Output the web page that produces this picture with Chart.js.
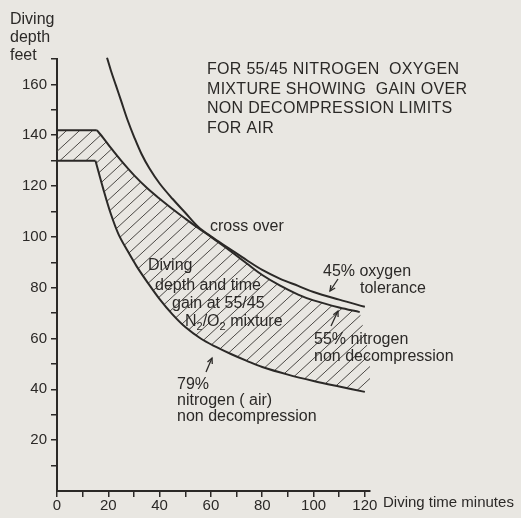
<!DOCTYPE html>
<html><head><meta charset="utf-8">
<script src="https://cdn.jsdelivr.net/npm/chart.js@4.4.0/dist/chart.umd.min.js"></script>
<style>html,body{margin:0;padding:0;background:#e9e7e2;} canvas{display:block}</style>
</head><body>
<div style="width:521px;height:518px;position:relative"><canvas id="c" width="521" height="518"></canvas></div>
<script>
const INK = '#2b2927';
const PAPER = '#e9e7e2';
const FONT = '"Liberation Sans", Arial, sans-serif';

// tick labels
const xTickLabels = [0, 20, 40, 60, 80, 100, 120];
const yTickLabels = [20, 40, 60, 80, 100, 120, 140, 160];

// 79% nitrogen (air) non decompression
const air79X = [0, 15, 18, 21, 24, 27.5, 31, 35, 40, 45, 50, 56, 62, 68, 74, 80, 90, 100, 110, 120];
const air79Y = [130, 130, 119, 109, 101, 94.5, 88.5, 82.5, 75.5, 69.5, 64.5, 60, 56.7, 53.8, 51.2, 48.8, 45.8, 43.3, 41.1, 39];

// 55% nitrogen non decompression
const nit55X = [0, 15.5, 18, 21, 25, 30, 35, 40, 45, 50, 55, 60, 66, 74, 80, 87, 94, 100, 110, 118];
const nit55Y = [142, 142, 139, 135, 130, 124.3, 119.3, 115, 111, 107.2, 103.5, 100, 95.6, 89.5, 85, 80.8, 77.3, 75, 72.2, 70.4];

// 45% oxygen tolerance
const oxy45X = [19.5, 21, 23, 25, 27.5, 30, 33, 36, 40, 45, 50, 55, 60, 67, 74, 80, 87, 94, 100, 110, 120];
const oxy45Y = [170.5, 165.5, 159.5, 153.5, 146, 139.5, 132.5, 127, 121, 115, 109.5, 104, 100.2, 95.5, 90.8, 87, 83.5, 80.7, 78.3, 75.3, 72.5];

// right-hand edge of the hatched gain area
const gainEdgeX = [123.5];
const gainEdgeY = [45];

const yTitleLines = ['Diving', 'depth', 'feet'];
const titleLines = ['FOR 55/45 NITROGEN  OXYGEN', 'MIXTURE SHOWING  GAIN OVER', 'NON DECOMPRESSION LIMITS', 'FOR AIR'];
const xTitle = 'Diving time minutes';

const pts = (xs, ys) => xs.map((x, i) => ({x: x, y: ys[i]}));
const gainArea = pts(nit55X, nit55Y)
  .concat(pts(gainEdgeX, gainEdgeY))
  .concat(pts(air79X, air79Y).reverse());

// hatch pattern
function makeHatch() {
  const w = 13, h = 12;
  const t = document.createElement('canvas');
  t.width = w; t.height = h;
  const g = t.getContext('2d');
  g.strokeStyle = '#4a4744';
  g.lineWidth = 1;
  [[0, 0], [-w, h], [w, -h]].forEach(([dx, dy]) => {
    g.beginPath();
    g.moveTo(dx, h + dy);
    g.lineTo(w + dx, dy);
    g.stroke();
  });
  return document.createElement('canvas').getContext('2d').createPattern(t, 'repeat');
}

function arrow(c, x1, y1, x2, y2) {
  c.beginPath(); c.moveTo(x1, y1); c.lineTo(x2, y2); c.stroke();
  const a = Math.atan2(y2 - y1, x2 - x1), L = 6;
  c.beginPath();
  c.moveTo(x2 - L * Math.cos(a - 0.45), y2 - L * Math.sin(a - 0.45));
  c.lineTo(x2, y2);
  c.lineTo(x2 - L * Math.cos(a + 0.45), y2 - L * Math.sin(a + 0.45));
  c.stroke();
}

const annot = {
  id: 'annot',
  beforeDraw(chart) {
    const c = chart.ctx; c.save(); c.fillStyle = PAPER; c.fillRect(0, 0, chart.width, chart.height); c.restore();
  },
  afterDraw(chart) {
    const c = chart.ctx;
    c.save();
    c.fillStyle = INK; c.strokeStyle = INK; c.lineWidth = 1.3;
    c.textBaseline = 'middle'; c.textAlign = 'left';
    c.font = '16px ' + FONT;
    yTitleLines.forEach((t, i) => c.fillText(t, 10, 20 + i * 18));
    c.letterSpacing = '0.3px';
    titleLines.forEach((t, i) => c.fillText(t, 207, 70 + i * 19.5));
    c.letterSpacing = '0px';
    c.font = '15px ' + FONT;
    c.fillText(xTitle, 383, 503);
    c.font = '16px ' + FONT;
    c.fillText('cross over', 210, 227);
    c.fillText('Diving', 148, 266);
    c.fillText('depth and time', 155, 286);
    c.fillText('gain at 55/45', 172, 304);
    // N2/O2 mixture with subscripts
    let x = 185; const y = 322;
    const part = (s, sub) => {
      if (sub) { c.font = '11px ' + FONT; c.fillText(s, x, y + 5); }
      else { c.font = '16px ' + FONT; c.fillText(s, x, y); }
      x += c.measureText(s).width;
    };
    part('N'); part('2', true); part('/O'); part('2', true); part(' mixture');
    c.font = '16px ' + FONT;
    c.fillText('45% oxygen', 323, 272);
    c.fillText('tolerance', 360, 289);
    c.fillText('55% nitrogen', 314, 340);
    c.fillText('non decompression', 314, 357);
    c.fillText('79%', 177, 385);
    c.fillText('nitrogen ( air)', 177, 401);
    c.fillText('non decompression', 177, 417);
    arrow(c, 338, 279, 330, 291);
    arrow(c, 331, 326, 338, 311);
    arrow(c, 206, 372, 212, 358);
    c.restore();
  }
};

const lineDs = (label, data, tension) => ({
  label: label, data: data, borderColor: INK, borderWidth: 2, pointRadius: 0,
  fill: false, tension: tension, clip: false, order: 1
});

new Chart(document.getElementById('c'), {
  type: 'line',
  data: {
    datasets: [
      lineDs('45% oxygen tolerance', pts(oxy45X, oxy45Y), 0.35),
      lineDs('55% nitrogen (flat)', pts(nit55X, nit55Y).slice(0, 2), 0),
      lineDs('55% nitrogen non decompression', pts(nit55X, nit55Y).slice(1), 0.35),
      lineDs('79% nitrogen (flat)', pts(air79X, air79Y).slice(0, 2), 0),
      lineDs('79% nitrogen (air) non decompression', pts(air79X, air79Y).slice(1), 0.35),
      { label: 'gain', data: gainArea, borderWidth: 0, borderColor: 'rgba(0,0,0,0)',
        backgroundColor: makeHatch(), fill: 'shape', pointRadius: 0, tension: 0, clip: false, order: 10 }
    ]
  },
  options: {
    responsive: false, animation: false, events: [],
    layout: { padding: { top: 59, right: 151, left: 0, bottom: 0 } },
    plugins: { legend: { display: false }, tooltip: { enabled: false } },
    scales: {
      x: {
        type: 'linear', min: 0, max: 122,
        afterFit: s => { s.height = 27; },
        border: { display: true, color: INK, width: 2 },
        grid: { drawOnChartArea: false, drawTicks: true, tickLength: 6, color: INK, lineWidth: 1.5 },
        ticks: { stepSize: 10, includeBounds: false, autoSkip: false, maxRotation: 0, padding: 0,
          color: INK, font: { family: FONT, size: 15 },
          callback: v => xTickLabels.includes(v) ? String(v) : '' }
      },
      y: {
        type: 'linear', min: 0, max: 170,
        afterFit: s => { s.width = 57; },
        border: { display: true, color: INK, width: 2 },
        grid: { drawOnChartArea: false, drawTicks: true, tickLength: 6, lineWidth: 1.5,
          color: ctx => (ctx.tick && ctx.tick.value === 0) ? 'rgba(0,0,0,0)' : INK },
        ticks: { stepSize: 10, autoSkip: false, padding: 4,
          color: INK, font: { family: FONT, size: 15 },
          callback: v => yTickLabels.includes(v) ? String(v) : '' }
      }
    }
  },
  plugins: [annot]
});
</script></body></html>
